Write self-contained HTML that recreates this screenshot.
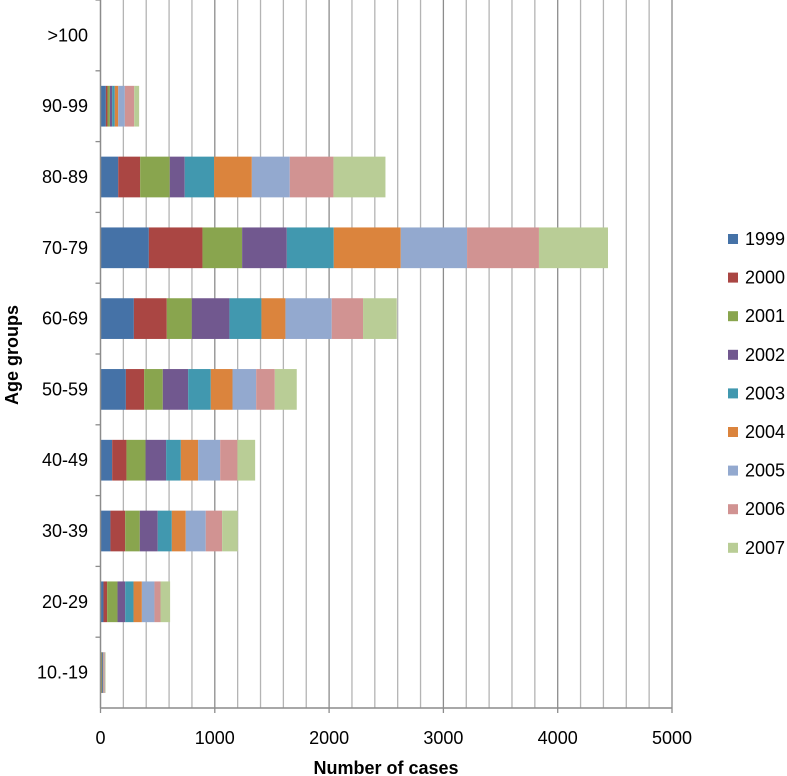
<!DOCTYPE html>
<html><head><meta charset="utf-8"><style>
body{margin:0;background:#fff;}
svg{display:block;font-family:"Liberation Sans",sans-serif;}
</style></head><body>
<svg id="chart" width="787" height="776" viewBox="0 0 787 776" xmlns="http://www.w3.org/2000/svg"></svg>
<script>
const categories = [">100","90-99","80-89","70-79","60-69","50-59","40-49","30-39","20-29","10.-19"];
const years = ["1999","2000","2001","2002","2003","2004","2005","2006","2007"];
const colors = ["#4572A7","#AA4643","#89A54E","#71588F","#4198AF","#DB843D","#93A9CF","#D19392","#B9CD96"];
const s1999 = [0,47,155,423,292,222,102,87,26,4];
const s2000 = [0,14,192,469,288,160,125,129,32,4];
const s2001 = [0,21,259,347,219,163,167,128,91,5];
const s2002 = [0,20,131,391,329,222,180,157,67,5];
const s2003 = [0,23,257,411,280,198,129,123,73,5];
const s2004 = [0,30,330,586,210,190,151,122,73,5];
const s2005 = [0,58,332,580,405,207,193,175,110,6];
const s2006 = [0,82,382,629,274,163,151,143,53,5];
const s2007 = [0,43,455,604,295,192,155,137,84,5];
const series = [s1999,s2000,s2001,s2002,s2003,s2004,s2005,s2006,s2007];
const xTicks = [0,1000,2000,3000,4000,5000];

const NS="http://www.w3.org/2000/svg";
const svg=document.getElementById('chart');
const x0=100.5, x1=672, plotTop=0, plotBottom=708;
const xMax=5000;
const band=(plotBottom-plotTop)/categories.length;
const xScale=v=>x0+v/xMax*(x1-x0);
const yBand=i=>plotTop+i*band;
function mk(tag,attrs){const e=document.createElementNS(NS,tag);for(const k in attrs)e.setAttribute(k,attrs[k]);svg.appendChild(e);return e;}

for(let v=200;v<=xMax;v+=200){
  const g=mk('line',{x1:xScale(v),x2:xScale(v),y1:plotTop,y2:plotBottom,stroke:(v%1000===0)?'#8c8c8c':'#b4b4b4','stroke-width':1.3});
  
  
}
categories.forEach((c,i)=>{
  let cum=0;
  const bh=band*0.575;
  const y=yBand(i)+(band-bh)/2;
  series.forEach((s,j)=>{
    const v=s[i];
    if(v>0){
      const r=mk('rect',{x:xScale(cum),y:y,width:xScale(cum+v)-xScale(cum),height:bh,fill:colors[j]});
      
      
    }
    cum+=v;
  });
  const t=mk('text',{x:88,y:yBand(i)+band/2+6,'text-anchor':'end','font-size':18,fill:'#000'});
  t.textContent=c;
  
  
  const tk=mk('line',{x1:x0-5,x2:x0,y1:yBand(i),y2:yBand(i),stroke:'#8c8c8c','stroke-width':1.3});
  
  
});
const ya=mk('line',{x1:x0,x2:x0,y1:plotTop,y2:plotBottom,stroke:'#8c8c8c','stroke-width':1.5});


const xa=mk('line',{x1:x0,x2:x1,y1:plotBottom,y2:plotBottom,stroke:'#8c8c8c','stroke-width':1.5});


xTicks.forEach(v=>{
  const tk=mk('line',{x1:xScale(v),x2:xScale(v),y1:plotBottom,y2:plotBottom+5,stroke:'#8c8c8c','stroke-width':1.3});
  
  
  const t=mk('text',{x:xScale(v),y:744,'text-anchor':'middle','font-size':18,fill:'#000'});
  t.textContent=v;
  
  
});
const xt=mk('text',{x:386,y:774,'text-anchor':'middle','font-size':18,'font-weight':'bold'});
xt.textContent='Number of cases';


const yt=mk('text',{x:0,y:0,'text-anchor':'middle','font-size':18,'font-weight':'bold',transform:'translate(18,355) rotate(-90)'});
yt.textContent='Age groups';


years.forEach((yr,j)=>{
  const cy=239+j*38.6;
  const r=mk('rect',{x:728,y:cy-5,width:10,height:10,fill:colors[j]});
  
  
  const t=mk('text',{x:745,y:cy+6,'font-size':18});
  t.textContent=yr;
  
  
});
</script>
</body></html>
